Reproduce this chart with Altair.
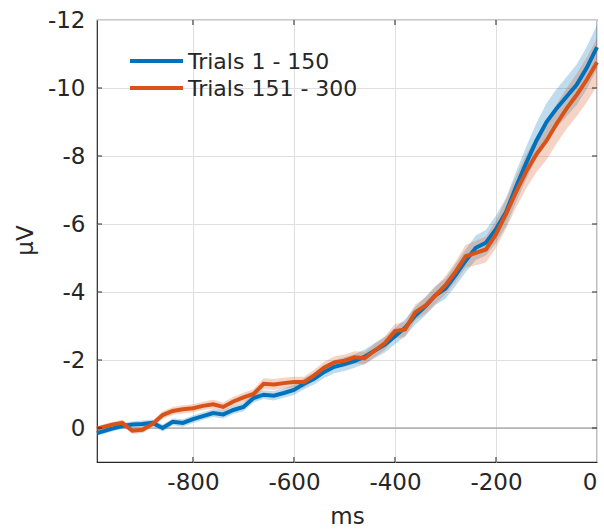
import altair as alt
import pandas as pd

ms = [-990, -960, -940, -920, -900, -880, -860, -840, -820, -800,
      -780, -760, -740, -720, -700, -680, -660, -640, -620, -600,
      -580, -560, -540, -520, -500, -480, -460, -440, -420, -400,
      -380, -360, -340, -320, -300, -280, -260, -240, -220, -200,
      -180, -160, -140, -120, -100, -80, -60, -40, -20, 0]

blue = [0.15, 0.02, -0.06, -0.1, -0.12, -0.15, 0.0, -0.18, -0.15, -0.26,
        -0.35, -0.44, -0.4, -0.53, -0.62, -0.88, -0.98, -0.95, -1.03, -1.12,
        -1.3, -1.45, -1.65, -1.8, -1.88, -1.97, -2.1, -2.28, -2.45, -2.7,
        -2.95, -3.3, -3.58, -3.9, -4.1, -4.5, -4.92, -5.3, -5.45, -5.85,
        -6.35, -7.1, -7.8, -8.45, -9.0, -9.4, -9.75, -10.1, -10.6, -11.2]

orange = [0.02, -0.1, -0.15, 0.08, 0.05, -0.12, -0.38, -0.5, -0.55, -0.58,
          -0.65, -0.7, -0.62, -0.78, -0.9, -1.0, -1.3, -1.28, -1.32, -1.35,
          -1.35, -1.55, -1.78, -1.93, -1.98, -2.08, -2.05, -2.28, -2.5, -2.85,
          -2.9, -3.4, -3.6, -3.9, -4.2, -4.6, -5.05, -5.15, -5.25, -5.7,
          -6.3, -6.95, -7.55, -8.05, -8.45, -8.95, -9.4, -9.8, -10.25, -10.76]

blue_sem = [0.08, 0.08, 0.09, 0.09, 0.1, 0.1, 0.1, 0.1, 0.11, 0.11,
            0.11, 0.12, 0.12, 0.12, 0.13, 0.13, 0.13, 0.14, 0.14, 0.15,
            0.16, 0.17, 0.18, 0.19, 0.2, 0.2, 0.21, 0.22, 0.23, 0.24,
            0.25, 0.26, 0.27, 0.28, 0.3, 0.32, 0.34, 0.36, 0.38, 0.4,
            0.42, 0.45, 0.48, 0.52, 0.55, 0.57, 0.58, 0.6, 0.62, 0.65]

orange_sem = [0.08, 0.08, 0.09, 0.09, 0.1, 0.1, 0.11, 0.12, 0.12, 0.12,
              0.12, 0.13, 0.13, 0.14, 0.14, 0.15, 0.16, 0.16, 0.16, 0.16,
              0.16, 0.16, 0.17, 0.17, 0.18, 0.18, 0.19, 0.2, 0.2, 0.21,
              0.22, 0.23, 0.24, 0.25, 0.27, 0.3, 0.33, 0.36, 0.38, 0.4,
              0.43, 0.46, 0.5, 0.53, 0.56, 0.58, 0.6, 0.63, 0.66, 0.7]

series_names = ["Trials 1 - 150", "Trials 151 - 300"]
series_colors = ["#0072BD", "#D95319"]
x_ticks = [-800, -600, -400, -200, 0]
y_ticks = [-12, -10, -8, -6, -4, -2, 0]

rows = []
for name, vals, sem in [(series_names[0], blue, blue_sem), (series_names[1], orange, orange_sem)]:
    for t, v, s in zip(ms, vals, sem):
        rows.append({"ms": t, "v": v, "lo": v - s, "hi": v + s, "series": name})
df = pd.DataFrame(rows)

W, H = 500, 442
FONT = "DejaVu Sans"
TXT = "#262626"

xscale = alt.Scale(domain=[-990, 0], nice=False, zero=False)
yscale = alt.Scale(domain=[-12, 1], nice=False, zero=False, reverse=True)
cscale = alt.Scale(domain=series_names, range=series_colors)

x_enc = alt.X("ms:Q", scale=xscale, axis=alt.Axis(
    values=x_ticks, title="ms", labelExpr="'' + datum.value",
    ticks=False, domain=False, grid=True, gridColor="#dfdfdf",
    labelFontSize=23, labelColor=TXT, labelFont=FONT, labelPadding=9,
    titleFontSize=23, titleColor=TXT, titleFont=FONT, titleFontWeight="normal",
    titleY=61, titleBaseline="alphabetic"))
y_enc = alt.Y("v:Q", scale=yscale, axis=alt.Axis(
    values=y_ticks, title="μV", labelExpr="'' + datum.value",
    ticks=False, domain=False, grid=True, gridColor="#dfdfdf",
    labelFontSize=23, labelColor=TXT, labelFont=FONT, labelPadding=12,
    titleFontSize=23, titleColor=TXT, titleFont=FONT, titleFontWeight="normal",
    titleX=-72, titleY=220, titleBaseline="middle", titleAlign="center"))

base = alt.Chart(df)

bands = base.mark_area(opacity=0.25).encode(
    x=alt.X("ms:Q", scale=xscale),
    y=alt.Y("lo:Q", scale=yscale),
    y2="hi:Q",
    color=alt.Color("series:N", scale=cscale, legend=None),
)

lines = base.mark_line(strokeWidth=4).encode(
    x=x_enc,
    y=y_enc,
    color=alt.Color("series:N", scale=cscale, legend=None),
    order=alt.Order("series:N"),
)

zero_df = pd.DataFrame({"z": [0]})
zero_line = alt.Chart(zero_df).mark_rule(color="#8c8c8c", strokeWidth=1.2).encode(
    y=alt.Y("z:Q", scale=yscale))

xt_df = pd.DataFrame({"t": x_ticks[:-1]})
yt_df = pd.DataFrame({"t": y_ticks[1:]})
tick_color = TXT
xt_bottom = alt.Chart(xt_df).mark_rule(color=tick_color, strokeWidth=1).encode(
    x=alt.X("t:Q", scale=xscale), y=alt.value(H), y2=alt.value(H - 5))
xt_top = alt.Chart(xt_df).mark_rule(color=tick_color, strokeWidth=1).encode(
    x=alt.X("t:Q", scale=xscale), y=alt.value(0), y2=alt.value(5))
yt_left = alt.Chart(yt_df).mark_rule(color=tick_color, strokeWidth=1).encode(
    y=alt.Y("t:Q", scale=yscale), x=alt.value(0), x2=alt.value(5))
yt_right = alt.Chart(yt_df).mark_rule(color=tick_color, strokeWidth=1).encode(
    y=alt.Y("t:Q", scale=yscale), x=alt.value(W), x2=alt.value(W - 5))

# legend (box-less MATLAB-style legend in the upper left)
leg_layers = []
one = pd.DataFrame({"k": [0]})
for i, (name, col) in enumerate(zip(series_names, series_colors)):
    ly = 41 + 27 * i
    leg_layers.append(alt.Chart(one).mark_rule(color=col, strokeWidth=4).encode(
        x=alt.value(33), x2=alt.value(86), y=alt.value(ly)))
    leg_layers.append(alt.Chart(one).mark_text(
        align="left", baseline="middle", font=FONT, fontSize=22, color=TXT).encode(
        x=alt.value(91), y=alt.value(ly + 1), text=alt.value(name)))

chart = alt.layer(
    bands, zero_line, lines, xt_bottom, xt_top, yt_left, yt_right, *leg_layers
).properties(
    width=W, height=H,
    autosize=alt.AutoSizeParams(type="none"),
    padding={"left": 97, "top": 20, "right": 7, "bottom": 68},
    background="white",
).configure_view(stroke=TXT, strokeWidth=1.2)

chart.save("out.html", embed_options={"renderer": "svg", "actions": False})
